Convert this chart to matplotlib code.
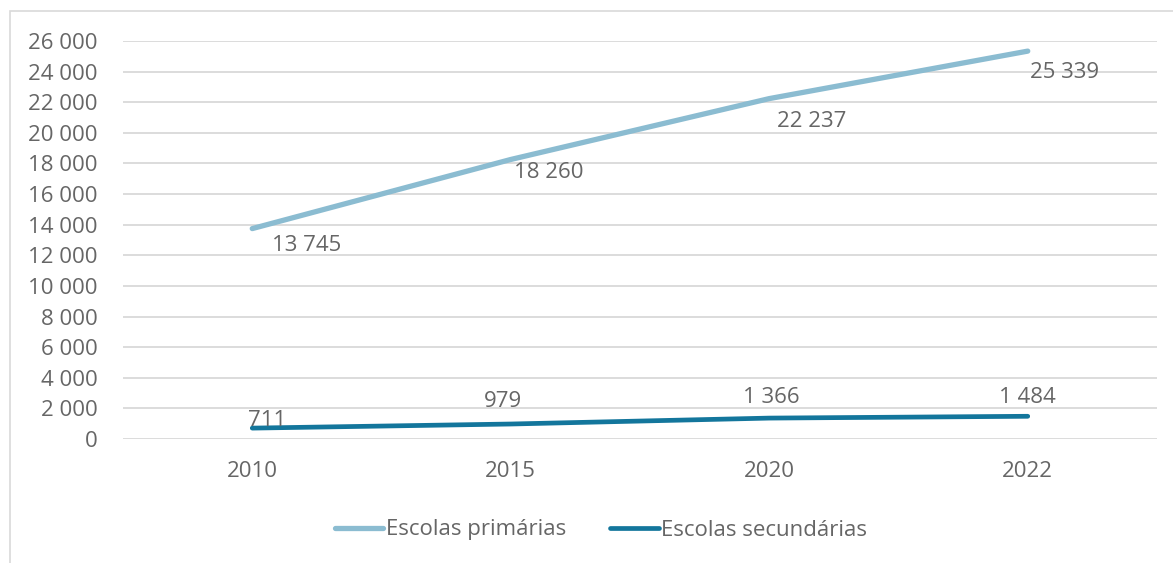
import matplotlib
matplotlib.use("Agg")
import matplotlib.pyplot as plt
from matplotlib.patches import Rectangle

years = ["2010", "2015", "2020", "2022"]
primarias = [13745, 18260, 22237, 25339]
secundarias = [711, 979, 1366, 1484]
yticks = list(range(0, 26001, 2000))

C_PRIM = "#8BBCD1"
C_SEC = "#13769C"
TXT = "#666666"
GRID = "#D9D9D9"
FS = 16

plt.rcParams["font.family"] = ["Open Sans", "DejaVu Sans"]

W, H = 1173, 563
fig = plt.figure(figsize=(W / 100, H / 100), dpi=100)
fig.patch.set_facecolor("white")

# outer chart frame
fig.patches.append(Rectangle((10 / W, -0.1), 1.2, 1 - 11 / H + 0.1,
                             transform=fig.transFigure, fill=False,
                             edgecolor=GRID, linewidth=1.2, zorder=0))

ax = fig.add_axes([123 / W, 1 - 439 / H, (1157 - 123) / W, (439 - 41) / H])
x = list(range(len(years)))

ax.plot(x, primarias, color=C_PRIM, linewidth=3.8, solid_capstyle="round",
        label="Escolas primárias", zorder=3)
ax.plot(x, secundarias, color=C_SEC, linewidth=3.4, solid_capstyle="round",
        label="Escolas secundárias", zorder=3)

def fmt(v):
    return f"{v:,}".replace(",", " ")

# label offsets in pixels (dx, dy)
prim_off = [(54, -17), (38, -13), (42, -23), (37, -21)]
sec_off = [(15, 8), (-8, 23), (2, 21), (0, 19)]
for xi, v, (dx, dy) in zip(x, primarias, prim_off):
    ax.annotate(fmt(v), (xi, v), xytext=(dx * 0.72, dy * 0.72),
                textcoords="offset points", ha="center", va="center",
                fontsize=FS, color=TXT, zorder=4)
for xi, v, (dx, dy) in zip(x, secundarias, sec_off):
    ax.annotate(fmt(v), (xi, v), xytext=(dx * 0.72, dy * 0.72),
                textcoords="offset points", ha="center", va="center",
                fontsize=FS, color=TXT, zorder=4)

ax.set_xlim(-0.5, len(years) - 0.5)
ax.set_ylim(0, 26000)
ax.set_yticks(yticks)
ax.set_yticklabels([fmt(t) for t in yticks])
ax.set_xticks(x)
ax.set_xticklabels(years)
ax.tick_params(axis="y", length=0, pad=18, labelsize=FS, labelcolor=TXT)
ax.tick_params(axis="x", length=0, pad=16, labelsize=FS, labelcolor=TXT)
ax.grid(axis="y", color=GRID, linewidth=1.3)
ax.set_axisbelow(True)
for s in ax.spines.values():
    s.set_visible(False)

leg = fig.legend(loc="center", bbox_to_anchor=(601 / W, 1 - 530 / H), ncol=2,
                 frameon=False, fontsize=FS, handlelength=2.2,
                 handletextpad=0.1, columnspacing=2.0)
for t in leg.get_texts():
    t.set_color(TXT)

fig.savefig("out.png", dpi=100, facecolor="white")
